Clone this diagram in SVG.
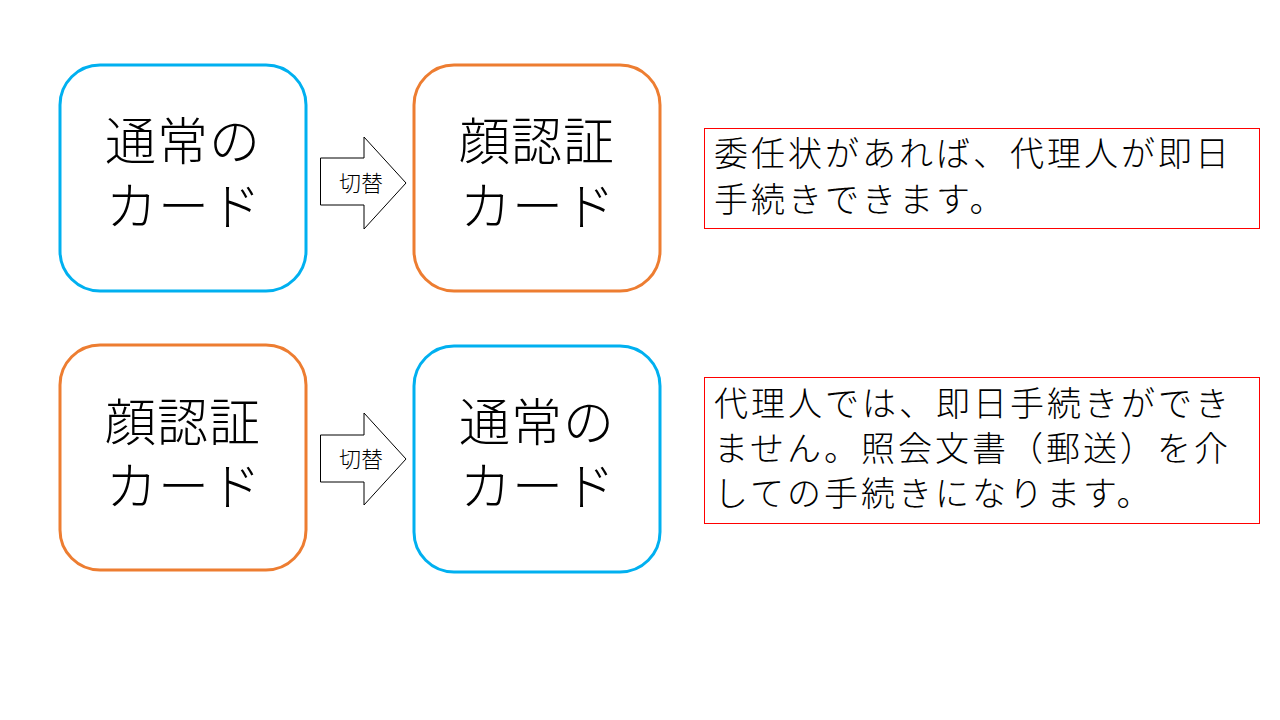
<svg xmlns="http://www.w3.org/2000/svg" width="1280" height="720" viewBox="0 0 1280 720">
<style>
.card{fill:#fff;stroke-width:3}
.blue{stroke:#00B0F0}
.orange{stroke:#ED7D31}
.t{font-family:"Noto Sans CJK JP","Noto Sans CJK SC",sans-serif;fill:#000;font-weight:300}
.big{font-size:51px;text-anchor:middle;letter-spacing:1px}
.small{font-size:22px;text-anchor:middle}
.note{font-size:34px;letter-spacing:3px}
.notebox{fill:#fff;stroke:#FF0000;stroke-width:1}
.arrow{fill:#fff;stroke:#000;stroke-width:1}
</style>
<rect width="1280" height="720" fill="#fff"/>
<g id="connectors">
<g id="arrow1">
<polygon class="arrow" points="320.5,158 364,158 364,137 406,183 364,229 364,205 320.5,205"/>
<text class="t small" x="361" y="191">切替</text>
</g>
<g id="arrow2">
<polygon class="arrow" points="320.5,435 364,435 364,413 406,459 364,505 364,482 320.5,482"/>
<text class="t small" x="361" y="467">切替</text>
</g>
</g>
<g id="node1">
<rect class="card blue" x="60" y="65" width="246" height="226" rx="40"/>
<text class="t big" x="183" y="160">通常の</text>
<text class="t big" x="184" y="225">カード</text>
</g>
<g id="node2">
<rect class="card orange" x="414" y="65" width="246" height="226" rx="40"/>
<text class="t big" x="537" y="160">顔認証</text>
<text class="t big" x="538" y="225">カード</text>
</g>
<g id="node3">
<rect class="card orange" x="60" y="345" width="246" height="225" rx="40"/>
<text class="t big" x="183" y="441">顔認証</text>
<text class="t big" x="184" y="505">カード</text>
</g>
<g id="node4">
<rect class="card blue" x="414" y="346" width="246" height="226" rx="40"/>
<text class="t big" x="537" y="441">通常の</text>
<text class="t big" x="538" y="505">カード</text>
</g>
<g id="note1">
<rect class="notebox" x="704.5" y="128.5" width="555" height="100"/>
<text class="t note" x="714" y="166">委任状があれば、代理人が即日</text>
<text class="t note" x="714" y="212">手続きできます。</text>
</g>
<g id="note2">
<rect class="notebox" x="704.5" y="377.5" width="555" height="146"/>
<text class="t note" x="714" y="416">代理人では、即日手続きができ</text>
<text class="t note" x="714" y="461">ません。照会文書（郵送）を介</text>
<text class="t note" x="714" y="506">しての手続きになります。</text>
</g>
</svg>
